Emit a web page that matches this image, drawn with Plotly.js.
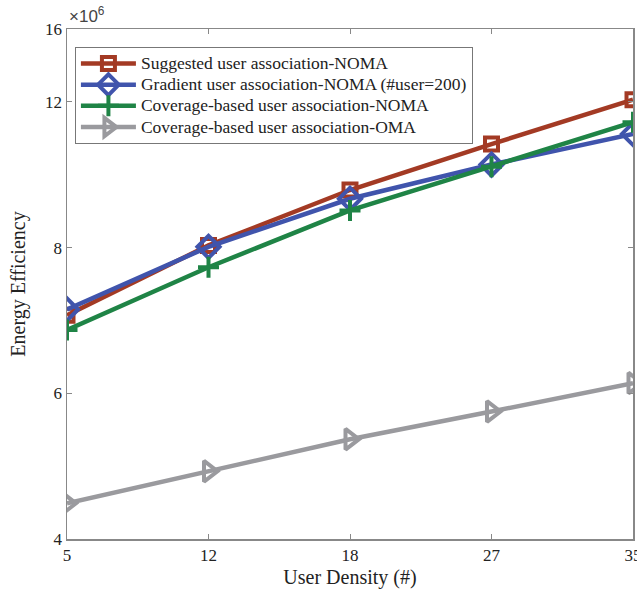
<!DOCTYPE html>
<html>
<head>
<meta charset="utf-8">
<script src="https://cdn.plot.ly/plotly-3.0.1.min.js"></script>
<style>
html,body{margin:0;padding:0;background:#fff;}
#chart{width:637px;height:600px;}
text.legendtext{font-size:17.5px !important;}
</style>
</head>
<body>
<div id="chart"></div>
<script>
// User density categories
const userDensity = ['5', '12', '18', '27', '35'];
// Energy efficiency values (x10^6), in the axis' linear plotting units
const suggestedNOMA = [7.07, 8.03, 8.79, 9.42, 10.03];
const gradientNOMA = [7.15, 8.01, 8.67, 9.14, 9.56];
const coverageNOMA = [6.87, 7.73, 8.51, 9.11, 9.72];
const coverageOMA = [4.49, 4.93, 5.37, 5.75, 6.14];
// y tick positions and labels as printed on the original chart
const yTickVals = [4, 6, 8, 10, 11];
const yTickText = ['4', '6', '8', '12', '16'];

const seriesNames = [
  'Suggested user association-NOMA',
  'Gradient user association-NOMA (#user=200)',
  'Coverage-based user association-NOMA',
  'Coverage-based user association-OMA'
];
const seriesData = [suggestedNOMA, gradientNOMA, coverageNOMA, coverageOMA];
const colors = ['#A33A24', '#4054AC', '#1F8446', '#9A9A9E'];
const symbols = ['square-open', 'diamond-open', 'cross-thin-open', 'triangle-right-open'];
const sizes = [13, 17, 15, 18];

const traces = seriesData.map((d, i) => ({
  x: userDensity,
  y: d,
  name: seriesNames[i],
  type: 'scatter',
  mode: 'lines+markers',
  line: {color: colors[i], width: 4.5},
  marker: {symbol: symbols[i], size: sizes[i], color: colors[i], line: {width: 4, color: colors[i]}}
}));

const serif = 'Liberation Serif, Times New Roman, serif';
const layout = {
  width: 637, height: 600,
  margin: {l: 67, r: 4, t: 29, b: 61},
  paper_bgcolor: '#fff', plot_bgcolor: '#fff',
  font: {family: serif, color: '#222', size: 17},
  showlegend: true,
  legend: {
    x: 0.014, y: 0.965, xanchor: 'left', yanchor: 'top',
    bgcolor: '#fff', bordercolor: '#777', borderwidth: 1,
    font: {family: serif, size: 14, color: '#222'},
    itemwidth: 55, tracegroupgap: 0
  },
  xaxis: {
    type: 'category', range: [0, 4],
    showline: true, mirror: 'ticks', linecolor: '#888', linewidth: 1.5,
    ticks: 'inside', ticklen: 5, tickcolor: '#888',
    showgrid: false, zeroline: false,
    tickfont: {family: serif, size: 17, color: '#222'},
    title: {text: 'User Density (#)', font: {family: serif, size: 20, color: '#222'}, standoff: 6}
  },
  yaxis: {
    range: [4, 11],
    tickvals: yTickVals, ticktext: yTickText,
    showline: true, mirror: 'ticks', linecolor: '#888', linewidth: 1.5,
    ticks: 'inside', ticklen: 5, tickcolor: '#888',
    showgrid: false, zeroline: false,
    tickfont: {family: serif, size: 17, color: '#222'},
    title: {text: 'Energy Efficiency', font: {family: serif, size: 20, color: '#222'}, standoff: 14}
  },
  annotations: [{
    xref: 'paper', yref: 'paper', x: 0, y: 1, xanchor: 'left', yanchor: 'bottom',
    xshift: 0, yshift: 1, showarrow: false,
    text: '×10<sup>6</sup>', font: {family: 'Liberation Sans, Arial, sans-serif', size: 17, color: '#444'}
  }]
};

Plotly.newPlot('chart', traces, layout, {displayModeBar: false, staticPlot: true});
</script>
</body>
</html>
